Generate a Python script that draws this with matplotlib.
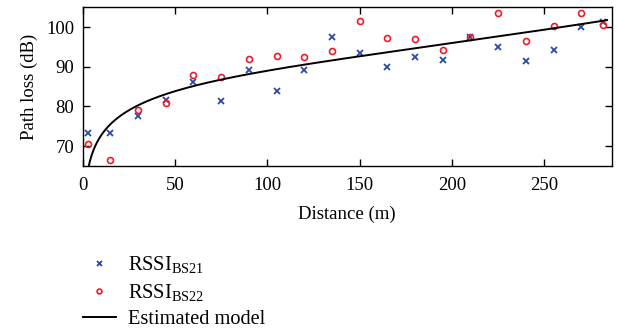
import numpy as np
import matplotlib
matplotlib.use("Agg")
import matplotlib.pyplot as plt

plt.rcParams['font.family'] = ['Liberation Serif', 'DejaVu Serif']
plt.rcParams['mathtext.fontset'] = 'custom'
plt.rcParams['mathtext.rm'] = 'Liberation Serif'
plt.rcParams['mathtext.it'] = 'Liberation Serif:italic'

# Measurement distances (m)
distance = [3, 15, 30, 45, 60, 75, 90, 105, 120, 135, 150, 165, 180, 195,
            210, 225, 240, 255, 270, 282]
# Path loss (dB) from RSSI of base station 21
rssi_bs21 = [73.4, 73.4, 77.7, 81.6, 86.1, 81.5, 89.1, 84.0, 89.3, 97.5,
             93.5, 90.0, 92.5, 91.6, 97.5, 95.0, 91.5, 94.2, 100.1, 101.2]
# Path loss (dB) from RSSI of base station 22
rssi_bs22 = [70.5, 66.6, 79.1, 80.9, 88.0, 87.4, 92.0, 92.6, 92.5, 94.0,
             101.6, 97.3, 97.0, 94.2, 97.5, 103.5, 96.5, 100.4, 103.5, 100.6]
# Estimated model coefficients: PL = a + b*log10(d) + c*d + e*d^2
model_a, model_b, model_c, model_e = 56.746, 16.057, -0.0084855, 9.965e-5
model_range = (2.5, 284)

fig = plt.figure(figsize=(6.18, 3.28), dpi=100)
ax = fig.add_axes([82.7 / 618, 1 - 166 / 328, (611.7 - 82.7) / 618, (166 - 7.3) / 328])

dm = np.linspace(model_range[0], model_range[1], 600)
pl = model_a + model_b * np.log10(dm) + model_c * dm + model_e * dm ** 2

h1, = ax.plot(distance, rssi_bs21, linestyle='none', marker='x', color='#2b4aa6',
              markersize=4.5, markeredgewidth=1.3, label=r'RSSI$_{\mathrm{BS21}}$')
h2, = ax.plot(distance, rssi_bs22, linestyle='none', marker='o', markerfacecolor='none',
              markeredgecolor='#ee1c2a', markersize=4.3, markeredgewidth=1.2,
              label=r'RSSI$_{\mathrm{BS22}}$')
h3, = ax.plot(dm, pl, color='black', linewidth=1.4, label='Estimated model')

ax.set_xlim(0, 286.5)
ax.set_ylim(65, 105)
ax.set_xticks([0, 50, 100, 150, 200, 250])
ax.set_yticks([70, 80, 90, 100])
ax.tick_params(direction='in', top=True, right=True, length=5, width=1,
               labelsize=13.5)
ax.tick_params(axis='x', pad=8)
ax.tick_params(axis='y', pad=6)
for s in ax.spines.values():
    s.set_linewidth(1.0)
ax.set_xlabel('Distance (m)', fontsize=13.5, labelpad=8)
ax.set_ylabel('Path loss (dB)', fontsize=13.5, labelpad=6)

fig.legend(handles=[h1, h2, h3], loc='upper left', bbox_to_anchor=(83 / 618, 1 - 254 / 328),
           frameon=False, fontsize=14.7, handlelength=1.6, handletextpad=0.62,
           labelspacing=0.34, borderpad=0.0, borderaxespad=0, markerscale=0.8)

fig.savefig('out.png', dpi=100)
